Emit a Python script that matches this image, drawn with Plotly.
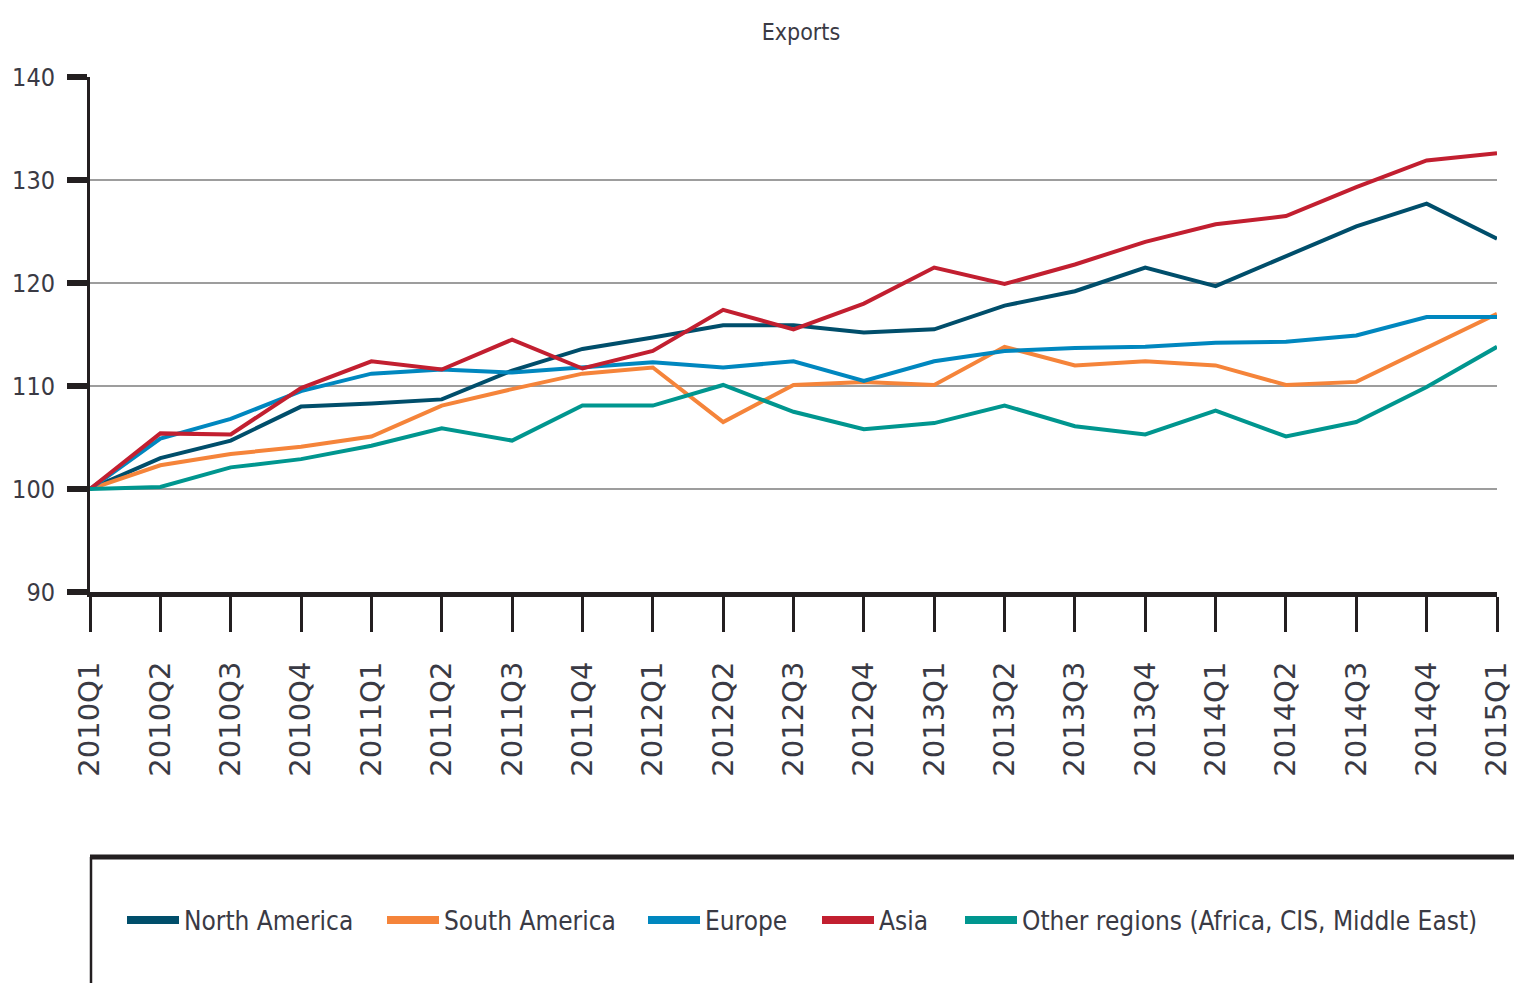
import plotly.graph_objects as go

quarters = ["2010Q1", "2010Q2", "2010Q3", "2010Q4", "2011Q1", "2011Q2", "2011Q3", "2011Q4",
            "2012Q1", "2012Q2", "2012Q3", "2012Q4", "2013Q1", "2013Q2", "2013Q3", "2013Q4",
            "2014Q1", "2014Q2", "2014Q3", "2014Q4", "2015Q1"]

north_america = [100, 103.0, 104.7, 108.0, 108.3, 108.7, 111.5, 113.6, 114.7, 115.9, 115.9,
                 115.2, 115.5, 117.8, 119.2, 121.5, 119.7, 122.6, 125.5, 127.7, 124.3]
south_america = [100, 102.3, 103.4, 104.1, 105.1, 108.1, 109.7, 111.2, 111.8, 106.5, 110.1,
                 110.4, 110.1, 113.8, 112.0, 112.4, 112.0, 110.1, 110.4, 113.7, 117.0]
europe = [100, 104.9, 106.8, 109.5, 111.2, 111.6, 111.3, 111.8, 112.3, 111.8, 112.4,
          110.5, 112.4, 113.4, 113.7, 113.8, 114.2, 114.3, 114.9, 116.7, 116.7]
asia = [100, 105.4, 105.3, 109.8, 112.4, 111.6, 114.5, 111.7, 113.4, 117.4, 115.5,
        118.0, 121.5, 119.9, 121.8, 124.0, 125.7, 126.5, 129.3, 131.9, 132.6]
other_regions = [100, 100.2, 102.1, 102.9, 104.2, 105.9, 104.7, 108.1, 108.1, 110.1, 107.5,
                 105.8, 106.4, 108.1, 106.1, 105.3, 107.6, 105.1, 106.5, 109.9, 113.8]

series_names = ["North America", "South America", "Europe", "Asia",
                "Other regions (Africa, CIS, Middle East)"]
series_values = [north_america, south_america, europe, asia, other_regions]
series_colors = ["#004e6b", "#f5843a", "#0087bf", "#c21f30", "#00968f"]

y_ticks = [90, 100, 110, 120, 130, 140]

W, H = 1514, 983
L, R, T, B = 90, 17, 77, 391
PW = W - L - R
PH = H - T - B

def px_x(p):
    return (p - L) / PW

def px_y(p):
    return (H - B - p) / PH

NARROW = "DejaVu Sans Condensed, Liberation Sans Narrow, Arial Narrow, sans-serif"

# left edge (px) of each legend key line
legend_key_x = [127, 387, 648, 822, 965]
legend_ids = ["legend", "legend2", "legend3", "legend4", "legend5"]

fig = go.Figure()
for name, vals, col in zip(series_names, series_values, series_colors):
    fig.add_trace(go.Scatter(x=quarters, y=vals, name=name, mode="lines",
                             legendgroup=name, showlegend=False,
                             line=dict(color=col, width=4)))
# legend entries (thicker key lines, as in the reference)
for name, col, lid in zip(series_names, series_colors, legend_ids):
    fig.add_trace(go.Scatter(x=[None], y=[None], name=name, mode="lines",
                             legendgroup=name, showlegend=True, legend=lid,
                             line=dict(color=col, width=8)))

legend_common = dict(orientation="h", xanchor="left", y=px_y(920), yanchor="middle",
                     font=dict(family=NARROW, size=26, color="#3a3a44"),
                     itemwidth=52, bgcolor="rgba(0,0,0,0)")
legend_layout = {lid: dict(x=px_x(kx - 5), **legend_common)
                 for lid, kx in zip(legend_ids, legend_key_x)}

fig.update_layout(
    width=W, height=H,
    margin=dict(l=L, r=R, t=T, b=B, autoexpand=False),
    paper_bgcolor="white", plot_bgcolor="white",
    title=dict(text="Exports", x=px_x(801), xref="paper", xanchor="center",
               y=1 - 32 / H, yanchor="middle",
               font=dict(family=NARROW, size=23, color="#3a3a44")),
    xaxis=dict(type="category", range=[0, len(quarters) - 1], automargin=False,
               showgrid=False, zeroline=False,
               showline=True, linecolor="#231f20", linewidth=5,
               ticks="outside", ticklen=35, tickwidth=3, tickcolor="#231f20",
               tickangle=-90, ticklabelstandoff=18,
               tickfont=dict(family="DejaVu Sans, sans-serif", size=29, color="#3a3a44")),
    yaxis=dict(range=[90, 140], tickvals=y_ticks, ticktext=[str(v) for v in y_ticks],
               automargin=False,
               showgrid=True, gridcolor="#9d9d9d", gridwidth=2, zeroline=False,
               showline=True, linecolor="#231f20", linewidth=3,
               ticks="outside", ticklen=20, tickwidth=6, tickcolor="#231f20",
               ticklabelstandoff=7,
               tickfont=dict(family=NARROW, size=25, color="#3a3a44")),
    showlegend=True,
    shapes=[
        dict(type="line", xref="paper", yref="paper",
             x0=px_x(90), x1=px_x(1514), y0=px_y(857), y1=px_y(857),
             line=dict(color="#231f20", width=5)),
        dict(type="line", xref="paper", yref="paper",
             x0=px_x(91), x1=px_x(91), y0=px_y(857), y1=px_y(990),
             line=dict(color="#231f20", width=2.5)),
    ],
    **legend_layout,
)

fig.write_html("out.html", config={"displayModeBar": False},
               post_script="document.body.style.margin='0';document.body.style.overflow='hidden';")
